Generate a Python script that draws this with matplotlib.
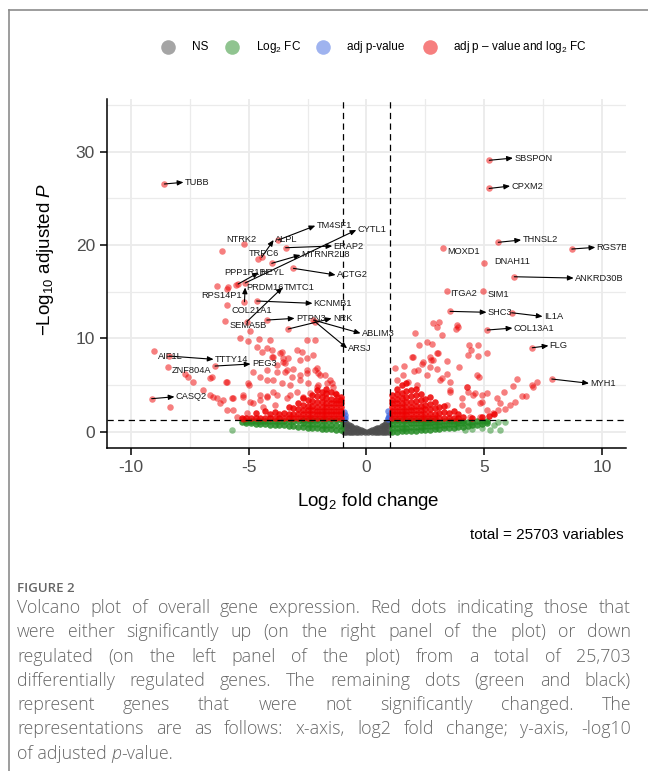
import matplotlib
matplotlib.use("Agg")
import matplotlib.pyplot as plt
from matplotlib.lines import Line2D

plt.rcParams["font.family"] = "Liberation Sans"
plt.rcParams["mathtext.fontset"] = "custom"
plt.rcParams["mathtext.rm"] = "Liberation Sans"
plt.rcParams["mathtext.it"] = "Liberation Sans:italic"

# ---------------- data ----------------
# not significant (grey): |log2FC| < 1 and padj > 0.05
ns_cols = {
    -0.95: [0.0, 0.6, 1.2], -0.85: [0.0, 0.5, 0.95], -0.75: [0.0, 0.4, 0.75],
    -0.65: [0.0, 0.6], -0.55: [0.0, 0.45], -0.45: [0.0, 0.35], -0.35: [0.0, 0.25],
    -0.25: [0.0, 0.2], -0.15: [0.05], -0.05: [0.0], 0.05: [0.0], 0.15: [0.05],
    0.25: [0.0, 0.2], 0.35: [0.0, 0.25], 0.45: [0.0, 0.35], 0.55: [0.0, 0.45],
    0.65: [0.0, 0.6], 0.75: [0.0, 0.4, 0.75], 0.85: [0.0, 0.5, 0.95],
    0.95: [0.0, 0.6, 1.2],
}

# log2 FC only (green) - dense band below the p threshold
fc_cols = {
    -5.3: [1.0], -5.1: [0.9, 1.2], -4.9: [0.9, 1.2], -4.7: [0.85, 1.2],
    -4.5: [0.8, 1.2], -4.3: [0.8, 1.2], -4.1: [0.75, 1.2], -3.9: [0.75, 1.2],
    -3.7: [0.7, 1.2], -3.5: [0.7, 1.2], -3.3: [0.65, 1.2], -3.1: [0.6, 1.2],
    -2.9: [0.55, 1.2], -2.7: [0.5, 0.9, 1.25], -2.5: [0.45, 0.85, 1.25],
    -2.3: [0.4, 0.8, 1.25], -2.1: [0.35, 0.8, 1.25], -1.9: [0.3, 0.75, 1.25],
    -1.7: [0.3, 0.75, 1.25], -1.5: [0.25, 0.7, 1.25], -1.3: [0.2, 0.7, 1.25],
    -1.1: [0.15, 0.65, 1.25],
    1.1: [0.0, 0.45, 0.85, 1.25], 1.3: [0.0, 0.45, 0.85, 1.25],
    1.5: [0.05, 0.45, 0.85, 1.25], 1.7: [0.05, 0.45, 0.85, 1.25],
    1.9: [0.1, 0.5, 0.9, 1.25], 2.1: [0.1, 0.5, 0.9, 1.25],
    2.3: [0.15, 0.55, 0.9, 1.25], 2.5: [0.2, 0.6, 0.95, 1.25],
    2.7: [0.2, 0.6, 0.95, 1.25], 2.9: [0.25, 0.65, 1.0, 1.25],
    3.1: [0.3, 0.7, 1.05], 3.3: [0.35, 0.75, 1.1], 3.5: [0.4, 0.8, 1.15],
    3.7: [0.45, 0.85, 1.2], 3.9: [0.5, 0.9, 1.2], 4.1: [0.55, 0.95, 1.2],
    4.3: [0.65, 1.0], 4.5: [0.7, 1.05], 4.7: [0.75, 1.1], 4.9: [0.8, 1.15],
    5.1: [0.9, 1.2],
}
fc_sparse = [(-5.69, 0.18), (5.25, 0.18), (5.67, 0.18), (5.89, 1.07), (4.5, 0.3),
             (4.9, 0.45), (5.4, 0.7), (5.6, 1.0), (4.2, 0.2)]

# adj p-value only (blue)
p_pts = [(-0.95, 1.45), (-0.92, 1.75), (-0.96, 2.1), (-0.9, 1.5), (0.93, 1.45),
         (0.95, 1.8), (0.92, 2.2), (0.97, 1.6), (0.9, 1.4)]

# adj p-value and log2 FC (red) - dense part near the thresholds
sig_cols = {
    -1.1: [1.45, 1.85, 2.25, 2.65, 3.05, 3.45, 3.75],
    -1.3: [1.45, 1.85, 2.25, 2.65, 3.05, 3.45, 4.0],
    -1.5: [1.45, 1.85, 2.25, 2.65, 3.05, 3.5, 4.3],
    -1.7: [1.45, 1.85, 2.25, 2.65, 3.1, 3.6, 4.1, 4.6],
    -1.9: [1.45, 1.85, 2.25, 2.7, 3.2, 3.7, 4.3],
    -2.1: [1.45, 1.85, 2.25, 2.7, 3.2, 3.8, 4.5],
    -2.3: [1.45, 1.85, 2.3, 2.8, 3.3, 3.9],
    -2.5: [1.45, 1.85, 2.3, 2.8, 3.4],
    -2.7: [1.45, 1.85, 2.3, 2.9, 3.6],
    -2.9: [1.45, 1.9, 2.4, 3.1],
    -3.1: [1.45, 1.9, 2.5], -3.3: [1.45, 1.9, 2.6], -3.5: [1.45, 2.0],
    -3.7: [1.45, 1.9], -3.9: [1.45, 2.1], -4.1: [1.45, 1.9], -4.3: [1.5, 2.2],
    -4.5: [1.45], -4.7: [1.5, 2.0], -4.9: [1.45], -5.1: [1.5], -5.3: [1.45],
    1.1: [1.45, 1.85, 2.25, 2.65, 3.05, 3.45, 3.9],
    1.3: [1.45, 1.85, 2.25, 2.65, 3.05, 3.5, 4.0, 4.6],
    1.5: [1.45, 1.85, 2.25, 2.65, 3.1, 3.6, 4.2, 5.0],
    1.7: [1.45, 1.85, 2.25, 2.7, 3.2, 3.7, 4.4, 5.2],
    1.9: [1.45, 1.85, 2.3, 2.7, 3.2, 3.8, 4.5],
    2.1: [1.45, 1.85, 2.3, 2.8, 3.3, 3.9, 4.6],
    2.3: [1.45, 1.85, 2.3, 2.8, 3.4, 4.0],
    2.5: [1.45, 1.9, 2.4, 2.9, 3.5],
    2.7: [1.45, 1.9, 2.4, 3.0, 3.7],
    2.9: [1.45, 1.9, 2.5, 3.2],
    3.1: [1.45, 2.0, 2.6], 3.3: [1.5, 2.1, 2.8], 3.5: [1.45, 2.0],
    3.7: [1.5, 2.2], 3.9: [1.45, 1.9], 4.1: [1.6], 4.5: [1.5], 4.9: [1.55],
    5.2: [1.7], 5.4: [1.9],
}
sig_sparse = [
    # down-regulated
    (-4.94, 10.79), (-5.37, 10.01), (-5.01, 9.72), (-4.55, 9.90), (-4.09, 9.83),
    (-4.66, 9.05), (-4.23, 8.94), (-4.00, 8.76), (-4.45, 8.58), (-3.60, 8.58),
    (-2.54, 9.83), (-2.18, 9.83), (-2.96, 8.76), (-2.75, 8.58), (-3.53, 7.86),
    (-3.46, 7.33), (-3.95, 7.97), (-3.81, 7.15), (-3.38, 6.61), (-3.10, 6.69),
    (-2.82, 6.08), (-2.54, 6.61), (-2.11, 6.80), (-2.04, 6.26), (-2.82, 5.54),
    (-2.47, 5.19), (-2.04, 5.01), (-1.55, 5.54), (-1.41, 4.82), (-1.26, 3.75),
    (-3.95, 5.54), (-4.23, 6.61), (-4.80, 6.43), (-4.99, 5.01), (-5.96, 5.36),
    (-6.64, 5.79), (-6.92, 4.47), (-6.64, 3.93), (-6.36, 3.58), (-6.22, 3.04),
    (-5.72, 3.58), (-5.23, 3.75), (-4.80, 3.04), (-4.52, 3.93), (-4.23, 3.83),
    (-3.81, 3.93), (-4.38, 2.68), (-3.88, 2.86), (-3.38, 3.58), (-3.24, 3.93),
    (-5.93, 2.33), (-5.65, 2.33), (-5.08, 1.97), (-5.51, 1.61), (-5.23, 1.36),
    (-8.34, 2.68), (-2.25, 8.22), (-2.54, 7.86), (-2.82, 7.68), (-3.67, 8.40),
    (-3.32, 7.86), (-4.02, 8.04), (-3.53, 7.51), (-3.46, 6.43), (-3.17, 5.90),
    (-2.54, 6.26), (-2.18, 6.61), (-1.97, 6.08), (-1.76, 6.08), (-1.69, 5.19),
    (-1.47, 5.19), (-1.33, 4.11), (-2.11, 4.82), (-6.57, 5.90), (-5.93, 5.36),
    (-5.01, 5.19), (-4.52, 5.90), (-4.23, 5.54), (-3.81, 6.43), (-6.50, 3.75),
    (-6.08, 3.40), (-5.65, 3.58), (-5.23, 3.93), (-4.94, 3.22), (-4.52, 3.40),
    (-4.23, 3.75), (-3.95, 4.29), (-3.60, 5.19), (-3.24, 5.01), (-2.96, 4.29),
    (-2.68, 3.75), (-2.39, 4.11), (-7.71, 6.18), (-7.56, 5.83), (-7.38, 5.29),
    (-6.12, 19.40), (-5.91, 15.26), (-5.55, 15.7),
    # up-regulated
    (2.84, 11.62), (3.10, 11.79), (2.98, 11.25), (3.20, 10.36), (3.86, 11.44),
    (3.90, 11.25), (3.80, 10.97), (2.06, 10.55), (2.25, 9.29), (2.56, 9.58),
    (2.77, 9.40), (1.92, 7.97), (2.42, 7.51), (2.70, 8.04), (2.84, 7.68),
    (2.98, 8.40), (3.44, 7.61), (2.35, 7.25), (2.70, 6.97), (2.98, 6.69),
    (3.93, 6.97), (4.37, 9.29), (4.75, 9.29), (4.43, 8.76), (4.33, 8.22),
    (4.75, 8.11), (5.13, 8.40), (4.68, 6.08), (4.78, 5.83), (3.20, 5.72),
    (3.55, 5.36), (3.55, 4.47), (4.28, 4.82), (4.33, 4.29), (4.05, 3.58),
    (4.54, 3.93), (4.90, 3.93), (5.53, 3.58), (5.84, 4.22), (6.21, 4.90),
    (6.38, 5.68), (7.02, 5.01), (7.09, 4.76), (7.23, 5.36), (6.59, 3.83),
    (6.76, 3.83), (6.31, 3.22), (6.10, 2.86), (5.89, 2.40), (5.60, 2.33),
    (5.39, 1.97), (5.11, 2.33), (4.82, 1.61), (4.33, 2.33), (4.05, 2.86),
    (3.41, 2.86), (5.11, 4.11), (4.82, 3.04), (5.67, 3.04), (4.40, 1.61),
    (1.97, 8.04), (2.74, 7.68), (3.05, 8.40), (1.57, 6.08), (1.29, 5.54),
    (1.78, 5.36), (2.14, 5.01), (2.56, 6.08), (3.13, 5.54), (3.55, 4.29),
    (4.26, 4.82), (4.61, 4.11), (4.90, 3.22), (2.0, 6.5), (1.6, 7.0),
    (2.2, 6.6), (3.4, 6.2), (1.2, 6.8),
]

# labelled genes: point (x, y), label anchor (x, y), connector yes/no
genes = ["SBSPON", "CPXM2", "THNSL2", "RGS7B", "MOXD1", "DNAH11", "ANKRD30B",
         "ITGA2", "SIM1", "SHC3", "IL1A", "COL13A1", "FLG", "MYH1",
         "TUBB", "TM4SF1", "CYTL1", "NTRK2", "ALPL", "TRPC6", "ERAP2", "MTRNR2L8",
         "ACTG2", "PPP1R1B", "HEYL", "RPS14P1", "PRDM16", "TMTC1", "KCNMB1",
         "COL21A1", "SEMA5B", "PTPN3", "NRK", "ABLIM3", "ARSJ", "AIF1L",
         "TTTY14", "PEG3", "ZNF804A", "CASQ2"]
gene_x = [5.22, 5.21, 5.60, 8.72, 3.27, 4.98, 6.28, 3.41, 4.94, 3.55, 6.17, 5.13,
          7.04, 7.87, -8.58, -3.74, -5.15, -5.18, -4.45, -4.60, -3.43, -4.02,
          -3.10, -5.88, -5.45, -6.33, -5.18, -5.08, -4.66, -5.91, -6.00, -4.23,
          -3.32, -2.25, -2.18, -9.01, -8.37, -6.43, -8.41, -9.12]
gene_y = [29.09, 26.07, 20.30, 19.58, 19.72, 18.05, 16.61, 15.08, 15.11, 12.90,
          12.75, 10.90, 9.00, 5.65, 26.55, 20.55, 15.94, 20.15, 18.69, 18.5,
          19.72, 18.05, 17.51, 15.51, 15.83, 15.62, 13.93, 11.79, 14.01, 13.58,
          11.86, 11.97, 11.01, 11.97, 11.79, 8.65, 8.11, 7.04, 6.97, 3.54]
label_x = [6.22, 6.10, 6.57, 9.72, 3.38, 5.36, 8.80, 3.52, 5.08, 5.10, 7.48, 6.20,
           7.73, 9.45, -7.77, -2.17, -0.43, -6.0, -3.94, -5.03, -1.45, -2.80,
           -1.31, -6.09, -4.57, -7.07, -5.15, -3.56, -2.29, -5.79, -5.88, -3.05,
           -1.48, -0.25, -0.82, -8.89, -6.49, -4.92, -8.30, -8.15]
label_y = [29.33, 26.33, 20.55, 19.76, 19.29, 18.26, 16.47, 14.83, 14.73, 12.80,
           12.35, 11.11, 9.22, 5.19, 26.73, 22.08, 21.62, 20.65, 20.55, 19.05,
           19.90, 18.94, 16.80, 17.06, 17.06, 14.65, 15.46, 15.46, 13.76, 13.04,
           11.36, 12.15, 12.15, 10.55, 8.94, 8.11, 7.76, 7.26, 6.61, 3.75]
connector = [1, 1, 1, 1, 0, 0, 1, 0, 0, 1, 1, 1, 1, 1, 1, 1, 1, 0, 1, 0, 1, 1,
             1, 0, 1, 0, 1, 1, 1, 0, 0, 1, 1, 1, 1, 0, 1, 1, 0, 1]

legend_labels = ["NS", "Log$_2$ FC", "adj p-value", "adj p \u2013 value and log$_2$ FC"]
legend_colors = ["#4D4D4D", "#228B22", "#4169E1", "#EE0000"]

x_ticks = [-10, -5, 0, 5, 10]
y_ticks = [0, 10, 20, 30]
fc_cutoff = 1.0
p_cutoff = 1.30  # -log10(0.05)
n_total = 25703

caption_title = "FIGURE 2"
caption_lines = [
    "Volcano plot of overall gene expression. Red dots indicating those that",
    "were either significantly up (on the right panel of the plot) or down",
    "regulated (on the left panel of the plot) from a total of 25,703",
    "differentially regulated genes. The remaining dots (green and black)",
    "represent genes that were not significantly changed. The",
    "representations are as follows: x-axis, log2 fold change; y-axis, -log10",
]
caption_last = [("of adjusted ", "normal"), ("p", "italic"), ("-value.", "normal")]


def expand(cols):
    xs, ys = [], []
    for x, yl in cols.items():
        for y in yl:
            xs.append(x)
            ys.append(y)
    return xs, ys


W, H = 648, 771
fig = plt.figure(figsize=(W / 100, H / 100), dpi=100)
ax = fig.add_axes([107.4 / W, 1 - 447.6 / H, 518.1 / W, 349.0 / H])

PT = 22
ax.scatter(*expand(ns_cols), s=PT, c=legend_colors[0], alpha=0.85, lw=0, zorder=3)
ax.scatter(*expand(fc_cols), s=PT, c=legend_colors[1], alpha=0.85, lw=0, zorder=3)
ax.scatter(*zip(*fc_sparse), s=PT, c=legend_colors[1], alpha=0.5, lw=0, zorder=3)
ax.scatter(*zip(*p_pts), s=PT, c=legend_colors[2], alpha=0.7, lw=0, zorder=3)
ax.scatter(*expand(sig_cols), s=PT, c=legend_colors[3], alpha=0.85, lw=0, zorder=4)
ax.scatter(*zip(*sig_sparse), s=PT, c=legend_colors[3], alpha=0.5, lw=0, zorder=4)
ax.scatter(gene_x, gene_y, s=PT, c=legend_colors[3], alpha=0.5, lw=0, zorder=4)

# cutoff lines
for v in (-fc_cutoff, fc_cutoff):
    ax.axvline(v, color="black", lw=0.9, ls=(0, (5, 3.5)), zorder=5)
ax.axhline(p_cutoff, color="black", lw=0.9, ls=(0, (5, 3.5)), zorder=5)

# gene labels
for g, px, py, lx, ly, c in zip(genes, gene_x, gene_y, label_x, label_y, connector):
    if c:
        ax.annotate("", xy=(lx, ly), xytext=(px, py),
                    arrowprops=dict(arrowstyle="-|>,head_length=0.35,head_width=0.15",
                                    color="black", lw=0.8, shrinkA=0, shrinkB=0),
                    zorder=6)
    ax.text(lx + 0.05, ly, g, fontsize=6.7, color="#1a1a1a", ha="left",
            va="center", zorder=7, clip_on=True)

ax.set_xlim(-11, 11)
ax.set_ylim(-1.7, 35.7)
ax.set_xticks(x_ticks)
ax.set_yticks(y_ticks)
ax.set_xticks([-7.5, -2.5, 2.5, 7.5], minor=True)
ax.set_yticks([5, 15, 25, 35], minor=True)
ax.grid(True, which="major", color="#EBEBEB", lw=1.3, zorder=0)
ax.grid(True, which="minor", color="#EBEBEB", lw=0.9, zorder=0)
ax.set_axisbelow(True)
for s in ("top", "right"):
    ax.spines[s].set_visible(False)
for s in ("left", "bottom"):
    ax.spines[s].set_linewidth(1.1)
ax.tick_params(which="major", length=5, width=1.1, pad=4, labelsize=12.5,
               labelcolor="#4D4D4D")
ax.tick_params(which="minor", length=0)
ax.set_xticklabels([str(t) for t in x_ticks])

fig.text(368 / W, 1 - 506 / H, "Log$_2$ fold change", fontsize=13.5, ha="center",
         va="baseline")
fig.text(46 / W, 1 - 259 / H, "\u2212Log$_{10}$ adjusted $P$", fontsize=13.5,
         rotation=90, ha="center", va="center")
fig.text(624 / W, 1 - 535 / H, f"total = {n_total} variables", fontsize=11,
         ha="right", va="center")

# legend
leg_mx = [168.2, 232.2, 322.7, 429.7]
leg_tx = [191.6, 255.6, 346.9, 453.0]
for mx, tx, lab, col in zip(leg_mx, leg_tx, legend_labels, legend_colors):
    fig.add_artist(Line2D([mx / W], [1 - 46.9 / H], marker="o", ms=10.5,
                          color=col, alpha=0.5, mew=0, ls="none",
                          transform=fig.transFigure))
    fig.text(tx / W, 1 - 46.9 / H, lab, fontsize=8.5, ha="left", va="center")

# frame lines of the figure panel
fig.add_artist(Line2D([9 / W, 1], [1 - 10 / H, 1 - 10 / H], color="#8c8c8c",
                      lw=1.2, transform=fig.transFigure))
fig.add_artist(Line2D([9 / W, 9 / W], [1 - 10 / H, 0], color="#8c8c8c",
                      lw=1.2, transform=fig.transFigure))

# caption
cap_kw = dict(family="Open Sans", fontsize=12.8, weight="light", color="#666666")
fig.text(17 / W, 1 - 592 / H, caption_title, family="Open Sans", fontsize=9.5,
         weight="semibold", color="#666666", va="baseline")
renderer = fig.canvas.get_renderer()


def word_width(txt, **kw):
    t = fig.text(0, 0, txt, **kw)
    w = t.get_window_extent(renderer).width
    t.remove()
    return w


x0, x1 = 17.0, 631.0
base0, step = 613.0, 24.3
for i, line in enumerate(caption_lines):
    words = line.split()
    widths = [word_width(w, **cap_kw) for w in words]
    gap = (x1 - x0 - sum(widths)) / (len(words) - 1)
    x = x0
    for w, wd in zip(words, widths):
        fig.text(x / W, 1 - (base0 + i * step) / H, w, va="baseline", **cap_kw)
        x += wd + gap

x = x0
yl = base0 + len(caption_lines) * step
for seg, style in caption_last:
    kw = dict(cap_kw, style=style)
    fig.text(x / W, 1 - yl / H, seg, va="baseline", **kw)
    x += word_width(seg.replace(" ", "\u00a0"), **kw)

fig.savefig("out.png", dpi=100)
